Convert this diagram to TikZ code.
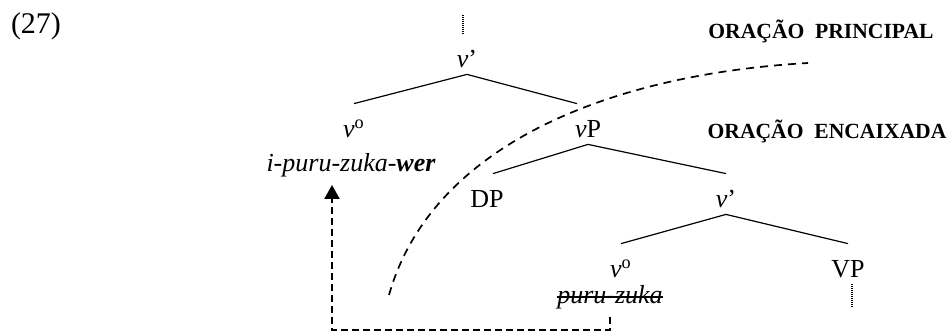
\documentclass[tikz,border=0pt]{standalone}
\usepackage{fontspec}
\setmainfont{Liberation Serif}
\usetikzlibrary{arrows.meta}
\begin{document}
\begin{tikzpicture}[x=0.5pt,y=-0.5pt]
\tikzstyle{cat}=[anchor=base,font=\fontsize{13}{15}\selectfont,text height=14.5pt,text depth=1.5pt,inner sep=2pt]
\tikzstyle{word}=[anchor=base,font=\fontsize{13}{15}\selectfont\itshape,inner sep=4pt]
\tikzstyle{clause}=[anchor=base,font=\fontsize{10.8}{13}\selectfont\bfseries]
\tikzstyle{branch}=[draw,line width=0.6pt]
\tikzstyle{dots}=[draw,line width=0.7pt,dash pattern=on 0.5pt off 0.5pt]
\tikzstyle{border}=[draw,line width=0.85pt,dash pattern=on 4pt off 3pt]
\tikzstyle{move}=[draw,line width=1pt,dash pattern=on 3.5pt off 2pt,-{Triangle[width=7.5pt,length=7pt]}]
\useasboundingbox (0,0) rectangle (947,333);
\node[anchor=base,font=\fontsize{15}{17}\selectfont] (ex) at (36,33) {(27)};
\node[clause] (main) at (821,38) {ORAÇÃO\ \ PRINCIPAL};
\node[clause] (emb) at (827,138) {ORAÇÃO\ \ ENCAIXADA};
\node[cat] (vbarA) at (467,67) {\textit{v}’};
\node[cat] (vzeroA) at (354,137) {\textit{v}\textsuperscript{o}};
\node[cat] (vP) at (588,137) {\textit{v}P};
\node[cat] (DP) at (487,207) {DP};
\node[cat] (vbarB) at (726,207) {\textit{v}’};
\node[cat] (vzeroB) at (621,277) {\textit{v}\textsuperscript{o}};
\node[cat] (VP) at (848,277) {VP};
\node[word] (verbo) at (351,171) {i-puru-zuka-\textbf{wer}};
\node[word] (strike) at (610,303) {puru-zuka};
\coordinate (topA) at (463,14);
\coordinate (botVP) at (852,308);
\coordinate (turn) at (332,330);
\coordinate (cA) at (389,295);
\coordinate (cB) at (808,63);
\path[dots] (vbarA.north -| topA) -- (topA);
\path[dots] (VP.south -| botVP) -- (botVP);
\path[branch] (vbarA.south) -- (vzeroA.north) (vbarA.south) -- ([xshift=-5.5pt]vP.north);
\path[branch] (vP.south) -- ([xshift=3pt]DP.north) (vP.south) -- (vbarB.north);
\path[branch] (vbarB.south) -- (vzeroB.north) (vbarB.south) -- (VP.north);
\path[branch] ([xshift=4pt,yshift=3pt]strike.base west) -- ([xshift=-4pt,yshift=3pt]strike.base east);
\path[border] (cA) .. controls (430,150) and (600,75) .. (cB);
\path[move] (strike.south) |- (turn) -- (turn |- verbo.south);
\end{tikzpicture}
\end{document}
